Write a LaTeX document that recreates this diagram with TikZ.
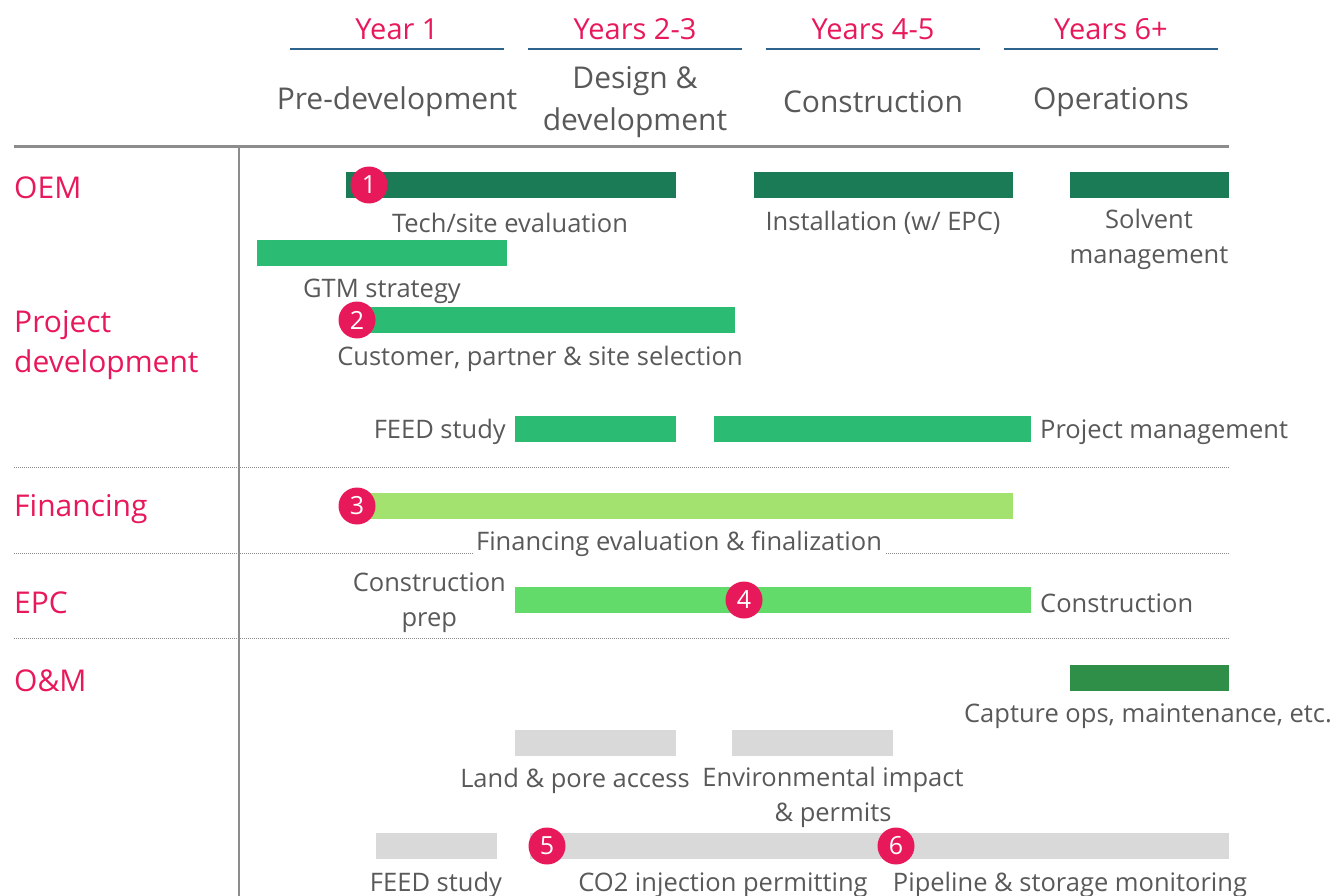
\documentclass[tikz,border=0pt]{standalone}
\usepackage{fontspec}
\setmainfont{Open Sans}
\definecolor{accent}{RGB}{232,25,90}
\definecolor{txtgray}{RGB}{89,89,89}
\definecolor{rulegray}{RGB}{140,140,140}
\definecolor{yearline}{RGB}{46,100,140}
\definecolor{darkgreen}{RGB}{27,123,87}
\definecolor{midgreen}{RGB}{43,187,115}
\definecolor{limegreen}{RGB}{163,226,110}
\definecolor{brightgreen}{RGB}{98,219,106}
\definecolor{opsgreen}{RGB}{47,142,72}
\definecolor{barlight}{RGB}{217,217,217}
\begin{document}
\begin{tikzpicture}[x=1pt,y=-1pt,
  lbl/.style={font=\fontsize{25.5}{35}\selectfont, text=txtgray, inner sep=0pt, align=center, yshift=-3pt},
  head/.style={font=\fontsize{30}{42}\selectfont, text=txtgray, inner sep=0pt, align=center, yshift=-3pt},
  year/.style={font=\fontsize{29}{35}\selectfont, text=accent, inner sep=0pt, yshift=-1pt},
  rowlbl/.style={font=\fontsize{30}{40}\selectfont, text=accent, inner sep=0pt, align=left, anchor=west, yshift=-3pt},
  bar/.style={rectangle, inner sep=0pt, minimum height=26pt, anchor=west},
  badge/.style={circle, fill=accent, text=white, inner sep=0pt, minimum size=37pt, font=\fontsize{25}{25}\selectfont},
  sep/.style={rulegray, line width=1pt, dash pattern=on 0.7pt off 1.3pt},
]
\useasboundingbox (0,0) rectangle (1340,896);

% period headings
\foreach \cx/\t [count=\i] in {397/Year 1, 635/Years 2-3, 873/Years 4-5, 1111/Years 6+}{
  \node[year] (yr\i) at (\cx,28) {\t};
  \draw[yearline, line width=1.6pt] (\cx-107,49) -- (\cx+107,49);
}
\node[head] (ph1) at (397,99) {Pre-development};
\node[head] (ph2) at (635,99) {Design \&\\development};
\node[head] (ph3) at (873,99) {Construction};
\node[head] (ph4) at (1111,99) {Operations};

% frame
\coordinate (topL) at (14,147);
\coordinate (topR) at (1229,147);
\draw[rulegray, line width=3pt] (topL) -- (topR);
\coordinate (axT) at (239,147);
\coordinate (axB) at (239,896);
\draw[rulegray, line width=1.5pt] (axT) -- (axB);

% row separators
\coordinate (s1L) at (14,467); \coordinate (s1R) at (1229,467);
\coordinate (s2L) at (14,553); \coordinate (s2R) at (1229,553);
\coordinate (s3L) at (14,638); \coordinate (s3R) at (1229,638);
\draw[sep] (s1L) -- (s1R);
\draw[sep] (s2L) -- (s2R);
\draw[sep] (s3L) -- (s3R);

% row labels
\node[rowlbl] (rOEM) at (14,185) {OEM};
\node[rowlbl] (rPD) at (14,342) {Project\\development};
\node[rowlbl] (rFin) at (14,506) {Financing};
\node[rowlbl] (rEPC) at (14,600) {EPC};
\node[rowlbl] (rOM) at (14,678) {O\&M};

% OEM
\node[bar, fill=darkgreen, minimum width=330pt] (oem1) at (346,185) {};
\node[lbl] (oem1t) at (510,220) {Tech/site evaluation};
\node[bar, fill=darkgreen, minimum width=259pt] (oem2) at (754,185) {};
\node[lbl] (oem2t) at (883,220) {Installation (w/ EPC)};
\node[bar, fill=darkgreen, minimum width=159pt] (oem3) at (1070,185) {};
\node[lbl, anchor=north] (oem3t) at (1149,206) {Solvent\\management};
\node[badge] (n1) at (369,185) {1};

% Project development
\node[bar, fill=midgreen, minimum width=250pt] (gtm) at (257,253) {};
\node[lbl] (gtmt) at (382,288) {GTM strategy};
\node[bar, fill=midgreen, minimum width=379pt] (sel) at (356,320) {};
\node[lbl] (selt) at (540,356) {Customer, partner \& site selection};
\node[badge] (n2) at (357,320) {2};
\node[bar, fill=midgreen, minimum width=161pt] (feed) at (515,429) {};
\node[lbl, anchor=east] (feedt) at (506,429) {FEED study};
\node[bar, fill=midgreen, minimum width=317pt] (pm) at (714,429) {};
\node[lbl, anchor=west] (pmt) at (1040,429) {Project management};

% Financing
\node[bar, fill=limegreen, minimum width=657pt] (fin) at (356,506) {};
\node[badge] (n3) at (357,506) {3};
\node[lbl, fill=white, inner xsep=3pt] (fint) at (679,541) {Financing evaluation \& finalization};

% EPC
\node[bar, fill=brightgreen, minimum width=516pt] (epc) at (515,600) {};
\node[badge] (n4) at (744,600) {4};
\node[lbl, anchor=east] (epcp) at (506,600) {Construction\\prep};
\node[lbl, anchor=west] (epct) at (1040,600) {Construction};

% O&M
\node[bar, fill=opsgreen, minimum width=159pt] (om) at (1070,678) {};
\node[lbl] (omt) at (1148,713) {Capture ops, maintenance, etc.};

% storage and transport
\node[bar, fill=barlight, minimum width=161pt] (land) at (515,743) {};
\node[lbl] (landt) at (575,778) {Land \& pore access};
\node[bar, fill=barlight, minimum width=161pt] (env) at (732,743) {};
\node[lbl, anchor=north] (envt) at (833,764) {Environmental impact\\\& permits};
\node[bar, fill=barlight, minimum width=121pt] (sfeed) at (376,846) {};
\node[lbl] (sfeedt) at (436,882) {FEED study};
\node[bar, fill=barlight, minimum width=699pt] (inj) at (530,846) {};
\node[badge] (n5) at (547,846) {5};
\node[badge] (n6) at (896,846) {6};
\node[lbl] (injt) at (723,882) {CO2 injection permitting};
\node[lbl] (pipet) at (1070,882) {Pipeline \& storage monitoring};
\end{tikzpicture}
\end{document}
